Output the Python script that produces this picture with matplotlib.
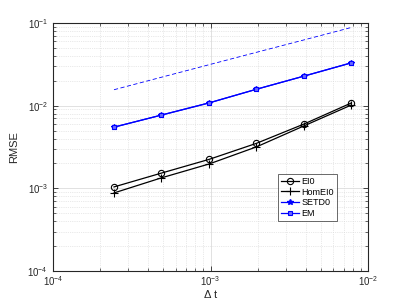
import matplotlib
matplotlib.use("Agg")
import matplotlib.pyplot as plt
import numpy as np

plt.rcParams['font.family'] = ['Liberation Sans', 'DejaVu Sans']
plt.rcParams['mathtext.fontset'] = 'custom'
plt.rcParams['mathtext.rm'] = 'Liberation Sans'
plt.rcParams['mathtext.default'] = 'regular'

# step sizes (2^-12 ... 2^-7)
dt = [2.44e-4, 4.88e-4, 9.77e-4, 1.95e-3, 3.91e-3, 7.81e-3]

# errors
ei0 = [1.04e-3, 1.53e-3, 2.24e-3, 3.5e-3, 6.0e-3, 1.08e-2]
homei0 = [8.8e-4, 1.34e-3, 1.97e-3, 3.17e-3, 5.7e-3, 1.02e-2]
setd0 = [5.5e-3, 7.7e-3, 1.08e-2, 1.58e-2, 2.28e-2, 3.3e-2]
em = [5.5e-3, 7.7e-3, 1.08e-2, 1.58e-2, 2.28e-2, 3.3e-2]

# reference slope line (order 1/2)
ref = [0.0156, 0.0221, 0.0313, 0.0442, 0.0625, 0.0884]

fig = plt.figure(figsize=(4.07, 3.05), dpi=100)
ax = fig.add_axes([0.13, 0.1115, 0.775, 0.813])

ax.loglog(dt, ei0, 'k-o', lw=0.9, ms=4.5, mfc='none', mew=0.8, label='EI0')
ax.loglog(dt, homei0, 'k-+', lw=0.9, ms=6, mew=0.8, label='HomEI0')
ax.loglog(dt, setd0, '-*', color='#0000ff', lw=0.9, ms=4, label='SETD0')
ax.loglog(dt, em, '-s', color='#0000ff', lw=0.9, ms=3.5, mfc='#6a6aff',
          mec='#0000ff', mew=0.8, label='EM')
ax.loglog(dt, ref, '--', color='#0000ff', lw=0.6, dashes=(5, 3))

ax.set_xlim(1e-4, 1e-2)
ax.set_ylim(1e-4, 1e-1)

ax.grid(True, which='major', color='#dcdcdc', lw=0.6, ls='-')
ax.grid(True, which='minor', color='#d4d4d4', lw=0.5, ls=':')
ax.set_axisbelow(True)

ax.tick_params(which='both', direction='in', top=True, right=True,
               colors='#262626', labelsize=7)
ax.tick_params(which='major', length=3.5, width=0.6)
ax.tick_params(which='minor', length=2, width=0.5)
ax.tick_params(axis='x', pad=2.5)
for s in ax.spines.values():
    s.set_color('#262626')
    s.set_linewidth(0.8)

ax.set_xlabel('$\\Delta$ t', fontsize=8, color='#262626', labelpad=0)
ax.set_ylabel('RMSE', fontsize=8, color='#262626', labelpad=6)

leg = ax.legend(loc='upper left', bbox_to_anchor=(0.714, 0.391), fontsize=6.5,
                frameon=True, fancybox=False, edgecolor='#262626',
                handlelength=2.0, handletextpad=0.3, borderpad=0.3,
                labelspacing=0.2, borderaxespad=0)
leg.get_frame().set_linewidth(0.6)

fig.savefig('out.png', dpi=100)
